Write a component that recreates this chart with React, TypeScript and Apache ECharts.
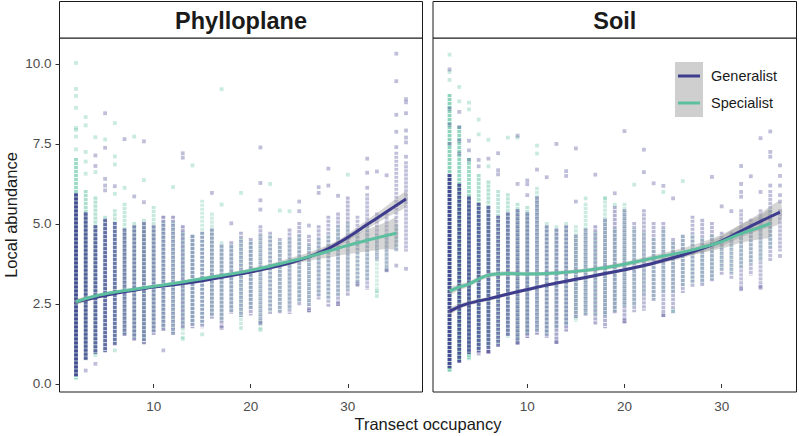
import React, { useEffect, useRef } from "react";
import * as echarts from "echarts";

const GEN = "#3E3C8D";
const SPE = "#5CBF9F";
const FONT = "'Liberation Sans', Arial, Helvetica, sans-serif";

const panelTitles = ["Phylloplane", "Soil"];
const groupNames = ["Generalist", "Specialist"];
const xTicks = [10, 20, 30];
const yTicks = [0, 2.5, 5, 7.5, 10];
const X_MIN = 0.3, X_MAX = 37.7, Y_MIN = -0.25, Y_MAX = 10.81;

// dense column cores: [occupancy, low, high, shade]
const phylloGenCore = [
  [2,0.3,5.9,0.9],[3,0.8,5.3,0.8],[4,1.0,4.9,0.75],[5,1.05,5.1,0.7],[6,1.25,5.0,0.65],[7,1.55,4.8,0.6],
  [8,1.4,4.9,0.55],[9,1.3,5.0,0.55],[10,1.6,4.9,0.5],[11,1.7,5.2,0.5],[12,1.6,5.2,0.45],[13,1.8,4.9,0.45],
  [14,1.8,4.6,0.42],[15,1.8,4.7,0.4],[16,2.1,4.8,0.4],[17,1.8,4.3,0.38],[18,2.25,4.4,0.38],[19,2.15,4.7,0.38],
  [20,2.2,4.5,0.38],[21,1.95,4.9,0.35],[22,2.25,4.7,0.35],[23,2.25,4.5,0.35],[24,2.25,4.8,0.35],[25,2.5,5.0,0.35],
  [26,2.3,4.6,0.35],[27,2.7,4.9,0.35],[28,2.45,5.2,0.35],[29,2.5,5.3,0.35],[30,2.8,5.8,0.35],[31,3.1,5.2,0.32],
  [32,3.0,5.9,0.32],[33,3.9,5.3,0.32],[34,3.55,5.3,0.32],[35,4.2,7.2,0.32],[36,4.2,6.9,0.32],
];
const phylloSpeCore = [
  [2,0.2,7.0,0.6],[3,0.8,6.0,0.5],[4,0.9,5.8,0.45],[5,1.1,5.2,0.4],[6,1.3,5.4,0.38],[7,1.6,5.6,0.35],
  [8,1.5,5.0,0.35],[9,1.4,5.1,0.35],[10,1.7,5.5,0.35],[11,1.8,5.0,0.3],[12,1.6,5.0,0.3],[13,1.45,4.7,0.3],
  [14,1.9,4.6,0.3],[15,1.9,5.7,0.3],[16,2.2,5.3,0.3],[17,2.0,4.4,0.3],[18,2.3,4.3,0.3],[19,1.9,4.5,0.3],
  [20,2.4,4.4,0.3],[21,1.7,4.6,0.25],[22,2.3,4.6,0.25],[23,2.3,4.4,0.25],[24,2.4,4.5,0.25],[25,2.6,4.6,0.25],
  [26,2.5,4.3,0.25],[27,2.8,4.5,0.25],[28,2.7,4.6,0.25],[29,2.8,4.9,0.25],[30,3.0,5.0,0.25],[31,3.2,4.6,0.25],
  [32,3.3,4.9,0.25],[33,2.9,4.6,0.25],[34,3.6,4.5,0.25],[35,4.2,4.9,0.25],
];
const soilGenCore = [
  [2,0.55,6.5,0.9],[3,0.7,6.2,0.85],[4,1.0,5.8,0.8],[5,1.05,5.6,0.75],[6,1.0,5.5,0.7],[7,1.2,5.2,0.65],
  [8,1.55,5.3,0.6],[9,1.3,5.4,0.55],[10,1.5,5.3,0.5],[11,1.6,5.8,0.45],[12,1.5,4.9,0.45],[13,1.3,4.8,0.45],
  [14,1.7,4.9,0.45],[15,2.1,4.6,0.4],[16,2.2,4.8,0.4],[17,1.9,4.9,0.4],[18,1.8,5.1,0.4],[19,2.25,5.5,0.4],
  [20,1.95,5.4,0.4],[21,2.3,5.0,0.35],[22,2.35,5.4,0.35],[23,2.65,5.0,0.35],[24,2.15,5.0,0.35],[25,2.25,4.5,0.35],
  [26,2.9,4.6,0.35],[27,3.1,5.2,0.35],[28,3.1,5.1,0.35],[29,3.25,5.0,0.35],[30,3.45,4.7,0.35],[31,3.35,4.7,0.32],
  [32,3.0,5.4,0.32],[33,3.45,5.1,0.32],[34,3.0,5.4,0.32],[35,3.9,6.0,0.32],[36,4.2,5.4,0.32],
];
const soilSpeCore = [
  [2,0.45,9.0,0.7],[3,0.75,8.0,0.65],[4,0.85,7.0,0.6],[5,1.1,6.5,0.5],[6,1.2,6.3,0.45],[7,1.3,6.0,0.4],
  [8,1.5,5.9,0.4],[9,1.4,5.6,0.4],[10,1.6,5.5,0.4],[11,1.7,6.1,0.32],[12,1.6,5.0,0.32],[13,1.8,4.9,0.32],
  [14,1.9,5.0,0.32],[15,2.0,4.9,0.32],[16,2.2,5.6,0.32],[17,2.2,4.7,0.32],[18,2.2,5.8,0.32],[19,2.3,4.8,0.32],
  [20,2.5,5.6,0.32],[21,2.5,4.8,0.27],[22,2.8,4.7,0.27],[23,2.7,4.5,0.27],[24,2.9,4.8,0.27],[25,2.9,4.4,0.27],
  [26,3.1,4.6,0.27],[27,3.2,4.6,0.27],[28,3.2,4.5,0.27],[29,3.3,4.6,0.27],[30,3.6,4.5,0.27],[31,3.5,4.5,0.27],
  [32,3.7,4.8,0.27],[33,3.8,4.7,0.27],[34,3.9,5.2,0.27],[35,4.3,5.4,0.27],
];

// scattered individual points: [occupancy, abundance]
const phylloGenPoints = [
  [3,0.42],[4,0.63],[11,1.05],[17,1.75],[21,1.9],[26,2.3],[29,2.5],[31,3.13],[34,3.55],[35,3.7],[36,3.6],
  [4,7.14],[4,6.81],[5,8.46],[5,7.38],[5,6.41],[5,6.2],[5,6.05],[6,6.18],[7,7.65],[8,5.86],[9,7.58],[9,5.68],
  [13,7.21],[13,7.07],[16,5.97],[18,5.02],[21,7.39],[21,6.28],[21,5.74],[21,5.45],[25,5.7],[25,5.4],[26,4.95],
  [27,6.15],[27,5.97],[28,6.73],[28,6.2],[29,5.88],[32,7.04],[32,6.6],[32,6.13],[33,6.64],[34,6.52],
  [35,10.32],[35,9.46],[35,8.41],[35,7.88],[35,7.4],[36,8.9],[36,8.8],[36,8.46],[36,7.92],[36,7.7],[36,7.55],[36,7.1],
];
const phylloSpePoints = [
  [2,10.03],[2,9.22],[2,9.0],[2,8.63],[2,8.0],[2,7.94],[2,7.73],[2,7.33],[3,8.34],[3,8.08],[3,7.25],[3,6.95],
  [3,6.57],[4,7.71],[4,6.62],[5,7.64],[6,8.15],[6,7.11],[6,6.86],[6,5.94],[7,6.13],[8,7.73],[9,6.37],[12,6.15],
  [14,6.83],[17,9.21],[17,5.61],[19,5.97],[22,6.25],[23,5.42],[24,5.4],[30,6.54],[33,2.9],[33,2.75],[13,1.41],
  [19,1.75],[21,1.7],[6,1.05],[15,1.55],
];
const soilGenPoints = [
  [2,9.83],[2,8.6],[2,8.1],[2,7.5],[3,8.5],[3,8.03],[3,7.6],[3,7.2],[4,7.6],[4,7.3],[4,7.0],[5,7.0],[5,6.8],
  [6,7.04],[7,7.21],[7,6.68],[7,6.55],[9,7.76],[9,6.25],[10,6.36],[10,6.24],[10,5.9],[11,6.7],[12,6.46],[13,7.5],
  [14,6.65],[14,6.5],[15,7.36],[15,5.7],[17,6.54],[19,5.96],[20,7.9],[22,7.32],[22,6.62],[23,6.27],[24,6.19],
  [25,5.8],[29,6.47],[30,5.55],[31,5.4],[32,6.81],[32,6.25],[32,6.0],[32,5.85],[33,6.49],[34,7.68],[34,6.0],
  [35,7.89],[35,7.25],[35,7.1],[35,6.2],[36,6.83],[36,6.5],[36,6.2],[36,5.9],[36,5.7],
  [5,0.95],[6,1.0],[9,1.28],[13,1.31],[20,1.97],[24,2.15],[32,2.96],[34,3.03],[36,4.0],
];
const soilSpePoints = [
  [2,10.29],[2,9.75],[2,9.5],[3,9.28],[3,8.83],[4,8.79],[4,8.58],[5,8.26],[5,7.8],[6,7.63],[6,6.8],[8,7.7],
  [9,7.7],[11,7.45],[11,7.2],[16,5.8],[18,5.8],[21,6.23],[24,6.0],[26,6.34],[25,2.28],[4,0.8],[2,0.45],[19,5.6],
];

// smooth fits: knots, fitted values, ribbon half-widths
const phylloGenX = [2,4,6,8,10,12,14,16,18,20,22,24,26,28,30,32,34,36];
const phylloGenY = [2.57,2.7,2.83,2.93,3.03,3.1,3.18,3.28,3.39,3.5,3.63,3.78,3.97,4.23,4.58,4.98,5.38,5.78];
const phylloGenSe = [0.07,0.05,0.04,0.04,0.04,0.04,0.04,0.04,0.04,0.05,0.05,0.06,0.07,0.09,0.11,0.14,0.18,0.23];
const phylloSpeX = [2,4,6,8,10,12,14,16,18,20,22,24,26,28,30,32,34,35];
const phylloSpeY = [2.57,2.75,2.87,2.96,3.05,3.14,3.24,3.34,3.44,3.55,3.68,3.83,3.98,4.15,4.33,4.49,4.64,4.71];
const phylloSpeSe = [0.07,0.05,0.05,0.05,0.05,0.05,0.05,0.06,0.06,0.07,0.08,0.1,0.13,0.2,0.27,0.34,0.42,0.47];
const soilGenX = [2,3,4,6,8,10,12,14,16,18,20,22,24,26,28,30,32,34,36];
const soilGenY = [2.27,2.42,2.52,2.66,2.81,2.95,3.09,3.21,3.33,3.45,3.57,3.7,3.86,4.03,4.23,4.47,4.78,5.08,5.37];
const soilGenSe = [0.1,0.08,0.07,0.06,0.05,0.05,0.05,0.05,0.05,0.05,0.05,0.06,0.07,0.09,0.11,0.15,0.2,0.26,0.33];
const soilSpeX = [2,3,4,5,6,7,8,10,12,14,16,18,20,22,24,26,28,30,32,34,35];
const soilSpeY = [2.9,3.03,3.12,3.28,3.4,3.44,3.45,3.44,3.45,3.49,3.55,3.63,3.74,3.87,4.0,4.12,4.27,4.45,4.7,4.9,5.02];
const soilSpeSe = [0.1,0.09,0.08,0.08,0.07,0.07,0.07,0.06,0.06,0.06,0.06,0.07,0.07,0.08,0.1,0.13,0.17,0.22,0.29,0.37,0.42];

function coreSeries(p: number, data: number[][], color: string) {
  return {
    type: "custom", xAxisIndex: p, yAxisIndex: p, clip: true, silent: true, z: 2,
    data,
    renderItem: (_params: any, api: any) => {
      const x = api.value(0), lo = api.value(1), hi = api.value(2), shade = api.value(3);
      const a = api.coord([x, hi]);
      const b = api.coord([x, lo]);
      return {
        type: "line",
        shape: { x1: a[0], y1: a[1] - 1.9, x2: b[0], y2: b[1] + 1.9 },
        style: { stroke: color, lineWidth: 3.8, lineDash: [3.2, 0.8], opacity: shade },
      };
    },
  };
}

function pointSeries(p: number, data: number[][], color: string) {
  return {
    type: "scatter", xAxisIndex: p, yAxisIndex: p, silent: true, z: 3,
    symbol: "rect", symbolSize: 3.8, data,
    itemStyle: { color, opacity: 0.33 },
  };
}

function ribbonSeries(p: number, xs: number[], ys: number[], se: number[]) {
  return {
    type: "custom", xAxisIndex: p, yAxisIndex: p, clip: true, silent: true, z: 4,
    data: [[xs[0], ys[0]]],
    renderItem: (_params: any, api: any) => {
      const pts: number[][] = [];
      for (let i = 0; i < xs.length; i++) pts.push(api.coord([xs[i], ys[i] + se[i]]));
      for (let i = xs.length - 1; i >= 0; i--) pts.push(api.coord([xs[i], ys[i] - se[i]]));
      return { type: "polygon", shape: { points: pts, smooth: 0.3 }, style: { fill: "#999999", opacity: 0.4 } };
    },
  };
}

function lineSeries(p: number, xs: number[], ys: number[], color: string) {
  return {
    type: "line", xAxisIndex: p, yAxisIndex: p, silent: true, z: 5,
    data: xs.map((x, i) => [x, ys[i]]), smooth: 0.35, symbol: "none",
    lineStyle: { color, width: 3 },
  };
}

const GRIDS = [
  { left: 59.5, top: 38, width: 363, height: 354 },
  { left: 433, top: 38, width: 363.5, height: 354 },
];

export default function App() {
  const ref = useRef<HTMLDivElement>(null);
  useEffect(() => {
    if (!ref.current) return;
    const chart = echarts.init(ref.current, null, { renderer: "svg" });
    const xAxis = [0, 1].map((p) => ({
      gridIndex: p, type: "value", min: X_MIN, max: X_MAX,
      axisLine: { show: false },
      axisTick: { show: true, customValues: xTicks, length: 4, lineStyle: { color: "#333", width: 1 } },
      axisLabel: { customValues: xTicks, color: "#4D4D4D", fontSize: 13.5, margin: 7, fontFamily: FONT },
      splitLine: { show: false },
    }));
    const yAxis = [0, 1].map((p) => ({
      gridIndex: p, type: "value", min: Y_MIN, max: Y_MAX,
      axisLine: { show: false },
      axisTick: { show: p === 0, customValues: yTicks, length: 4, lineStyle: { color: "#333", width: 1 } },
      axisLabel: {
        show: p === 0, customValues: yTicks, color: "#4D4D4D", fontSize: 13.5, margin: 8, fontFamily: FONT,
        formatter: (v: number) => v.toFixed(1),
      },
      splitLine: { show: false },
    }));
    const series: any[] = [
      coreSeries(0, phylloSpeCore, SPE), coreSeries(0, phylloGenCore, GEN),
      pointSeries(0, phylloSpePoints, SPE), pointSeries(0, phylloGenPoints, GEN),
      ribbonSeries(0, phylloGenX, phylloGenY, phylloGenSe), ribbonSeries(0, phylloSpeX, phylloSpeY, phylloSpeSe),
      lineSeries(0, phylloGenX, phylloGenY, GEN), lineSeries(0, phylloSpeX, phylloSpeY, SPE),
      coreSeries(1, soilSpeCore, SPE), coreSeries(1, soilGenCore, GEN),
      pointSeries(1, soilSpePoints, SPE), pointSeries(1, soilGenPoints, GEN),
      ribbonSeries(1, soilGenX, soilGenY, soilGenSe), ribbonSeries(1, soilSpeX, soilSpeY, soilSpeSe),
      lineSeries(1, soilGenX, soilGenY, GEN), lineSeries(1, soilSpeX, soilSpeY, SPE),
    ];
    const graphic: any[] = [];
    GRIDS.forEach((g, i) => {
      graphic.push({
        type: "rect", z: 10, shape: { x: g.left, y: 1.5, width: g.width, height: g.top - 1.5 },
        style: { fill: "#ffffff", stroke: "#1a1a1a", lineWidth: 1 },
      });
      graphic.push({
        type: "text", z: 11, x: g.left + g.width / 2, y: (1.5 + g.top) / 2 + 1,
        style: { text: panelTitles[i], font: `bold 23.5px ${FONT}`, fill: "#1a1a1a", textAlign: "center", textVerticalAlign: "middle" },
      });
    });
    // legend
    graphic.push({ type: "rect", z: 10, shape: { x: 675, y: 62, width: 28, height: 55 }, style: { fill: "#CFCFCF" } });
    [GEN, SPE].forEach((c, i) => {
      const yy = 76 + i * 27;
      graphic.push({ type: "line", z: 11, shape: { x1: 678, y1: yy, x2: 700, y2: yy }, style: { stroke: c, lineWidth: 3 } });
      graphic.push({
        type: "text", z: 11, x: 711, y: yy,
        style: { text: groupNames[i], font: `14.5px ${FONT}`, fill: "#1a1a1a", textAlign: "left", textVerticalAlign: "middle" },
      });
    });
    graphic.push({
      type: "text", z: 11, x: 428, y: 424,
      style: { text: "Transect occupancy", font: `16.5px ${FONT}`, fill: "#1a1a1a", textAlign: "center", textVerticalAlign: "middle" },
    });
    graphic.push({
      type: "text", z: 11, x: 11, y: 215, rotation: Math.PI / 2,
      style: { text: "Local abundance", font: `16.5px ${FONT}`, fill: "#1a1a1a", textAlign: "center", textVerticalAlign: "middle" },
    });
    chart.setOption({
      animation: false,
      backgroundColor: "#ffffff",
      textStyle: { fontFamily: FONT },
      grid: GRIDS.map((g) => ({ ...g, show: true, borderColor: "#1a1a1a", borderWidth: 1, backgroundColor: "transparent", containLabel: false })),
      xAxis, yAxis, series, graphic,
    });
    return () => chart.dispose();
  }, []);
  return <div ref={ref} style={{ position: "fixed", left: 0, top: 0, width: 799, height: 436, background: "#fff" }} />;
}
